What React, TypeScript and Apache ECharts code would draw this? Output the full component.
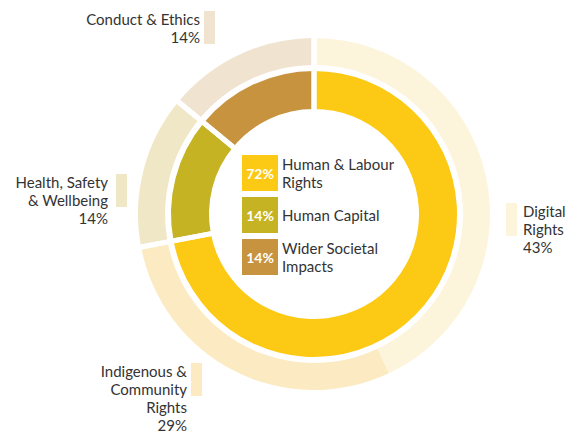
import React, { useEffect, useRef } from "react";
import * as echarts from "echarts";

const innerNames = ["Human & Labour\nRights", "Human Capital", "Wider Societal\nImpacts"];
const innerValues = [72, 14, 14];
const innerColors = ["#FCC914", "#C6B323", "#C7933F"];

const outerNames = ["Digital\nRights", "Indigenous &\nCommunity\nRights", "Health, Safety\n& Wellbeing", "Conduct & Ethics"];
const outerValues = [43, 29, 14, 14];
const outerColors = ["#FDF4DC", "#FCEBC2", "#EFE7C6", "#F0E4D1"];

const FONT = "Lato, 'Noto Sans', sans-serif";
const TEXT = "#333333";

// label placement: [textX, firstLineCenterY, align, barX]
const outerLabelPos: [number, number, "left" | "right", number][] = [
  [523, 211, "left", 506],
  [187, 371, "right", 191],
  [108, 182, "right", 116],
  [200, 19, "right", 204],
];

export default function App() {
  const ref = useRef<HTMLDivElement>(null);
  useEffect(() => {
    const chart = echarts.init(ref.current!, null, { renderer: "svg" });
    const center = [314, 214];
    const graphics: any[] = [];
    const total = outerValues.reduce((a, b) => a + b, 0);
    outerNames.forEach((n, i) => {
      const [tx, cy, align, bx] = outerLabelPos[i];
      graphics.push({
        type: "rect",
        shape: { x: bx, y: cy - 8, width: 11, height: 33 },
        style: { fill: outerColors[i] },
      });
      graphics.push({
        type: "text",
        x: tx,
        y: cy - 9,
        style: {
          text: n + "\n" + Math.round((outerValues[i] / total) * 100) + "%",
          align,
          verticalAlign: "top",
          font: `15px ${FONT}`,
          lineHeight: 18,
          fill: TEXT,
        },
      });
    });
    const innerTotal = innerValues.reduce((a, b) => a + b, 0);
    innerNames.forEach((n, i) => {
      const top = 155 + i * 42;
      graphics.push({
        type: "rect",
        shape: { x: 242, y: top, width: 36, height: 36 },
        style: { fill: innerColors[i] },
      });
      graphics.push({
        type: "text",
        x: 260,
        y: top + 18,
        style: {
          text: Math.round((innerValues[i] / innerTotal) * 100) + "%",
          align: "center",
          verticalAlign: "middle",
          font: `bold 14px ${FONT}`,
          fill: "#ffffff",
        },
      });
      graphics.push({
        type: "text",
        x: 282,
        y: top + 18,
        style: {
          text: n,
          align: "left",
          verticalAlign: "middle",
          font: `15px ${FONT}`,
          lineHeight: 18,
          fill: TEXT,
        },
      });
    });

    chart.setOption({
      animation: false,
      series: [
        {
          type: "pie",
          center,
          radius: [149, 176],
          startAngle: 90,
          silent: true,
          label: { show: false },
          labelLine: { show: false },
          data: outerNames.map((n, i) => ({ name: n, value: outerValues[i], itemStyle: { color: outerColors[i] } })),
        },
        {
          type: "pie",
          center,
          radius: [105, 143],
          startAngle: 90,
          silent: true,
          label: { show: false },
          labelLine: { show: false },
          data: innerNames.map((n, i) => ({ name: n, value: innerValues[i], itemStyle: { color: innerColors[i] } })),
        },
        {
          type: "pie",
          center,
          radius: [98, 184],
          startAngle: 90,
          silent: true,
          z: 5,
          label: { show: false },
          labelLine: { show: false },
          itemStyle: { color: "rgba(0,0,0,0)", borderColor: "#ffffff", borderWidth: 5 },
          data: innerNames.map((n, i) => ({ name: "sep" + i, value: innerValues[i] })),
        },
      ],
      graphic: graphics,
    });
    return () => chart.dispose();
  }, []);
  return <div ref={ref} style={{ position: "fixed", left: 0, top: 0, width: 574, height: 433, background: "#fff" }} />;
}
